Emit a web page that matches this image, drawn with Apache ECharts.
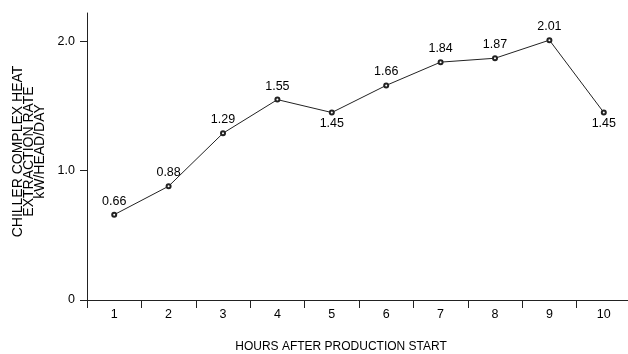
<!DOCTYPE html>
<html><head><meta charset="utf-8">
<script src="https://cdn.jsdelivr.net/npm/echarts@6/dist/echarts.min.js"></script>
<style>html,body{margin:0;padding:0;background:#fff}#c{width:628px;height:354px}</style>
</head><body><div id="c"></div>
<script>
var hours = ['1','2','3','4','5','6','7','8','9','10'];
var rate = [0.66, 0.88, 1.29, 1.55, 1.45, 1.66, 1.84, 1.87, 2.01, 1.45];
var labelBelow = [false, false, false, false, true, false, false, false, false, true];
var yTicks = [0, 1, 2];
var yTickLabels = ['0', '1.0', '2.0'];
var xTitle = 'HOURS AFTER PRODUCTION START';
var yTitle = 'CHILLER COMPLEX HEAT\nEXTRACTION RATE\nkW/HEAD/DAY';

var font = '"Liberation Sans", Arial, sans-serif';
var chart = echarts.init(document.getElementById('c'), null, {renderer: 'canvas'});
chart.setOption({
  animation: false,
  textStyle: {fontFamily: font},
  title: {
    text: xTitle, left: 341, top: 341, textAlign: 'center', padding: 0,
    textStyle: {fontSize: 12, fontWeight: 'normal', color: '#000', fontFamily: font}
  },
  grid: {left: 87, top: 13, width: 544, height: 287, containLabel: false, outerBoundsMode: 'none'},
  xAxis: {
    type: 'category', data: hours, boundaryGap: true,
    axisLine: {lineStyle: {color: '#222', width: 1}},
    axisTick: {show: true, inside: false, length: 8, lineStyle: {color: '#222'}},
    axisLabel: {color: '#000', fontSize: 12.5, margin: 8, fontFamily: font},
    splitLine: {show: false}
  },
  yAxis: {
    type: 'value', min: 0, max: 2.22,
    name: yTitle, nameLocation: 'middle', nameRotate: 90, nameGap: 37,
    nameTextStyle: {fontSize: 14, color: '#000', lineHeight: 11, fontFamily: font, padding: [0, 0, 0, 10]},
    axisLine: {show: true, lineStyle: {color: '#222', width: 1}},
    axisTick: {show: true, length: 7, customValues: yTicks, lineStyle: {color: '#222'}},
    axisLabel: {
      color: '#000', fontSize: 12.5, margin: 12, fontFamily: font, customValues: yTicks,
      formatter: function (v) { var i = yTicks.indexOf(v); return i >= 0 ? yTickLabels[i] : ''; }
    },
    splitLine: {show: false}
  },
  series: [{
    type: 'line',
    data: rate.map(function (v, i) {
      return {value: v, label: labelBelow[i] ? {position: 'bottom', distance: 2} : {position: 'top', distance: 4}};
    }),
    symbol: 'emptyCircle', symbolSize: 4,
    itemStyle: {color: '#222', borderColor: '#222', borderWidth: 1},
    lineStyle: {color: '#222', width: 1},
    label: {show: true, color: '#000', fontSize: 12.5, fontFamily: font,
      formatter: function (p) { return p.value.toFixed(2); }}
  }]
});
</script></body></html>
